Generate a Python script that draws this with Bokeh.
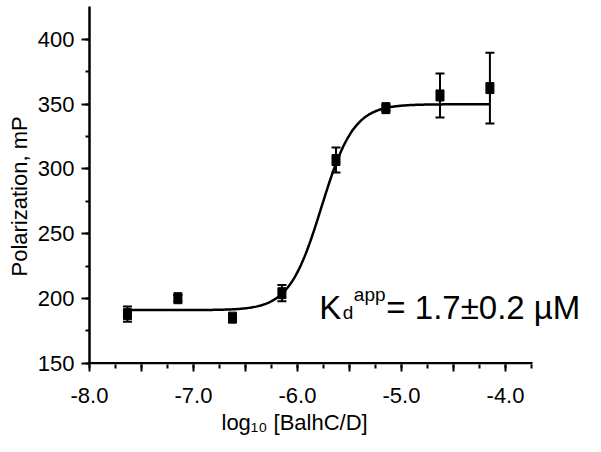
import numpy as np
from bokeh.plotting import figure
from bokeh.models import (ColumnDataSource, FixedTicker, CustomJSTickFormatter,
                          Whisker, TeeHead, Label, Range1d, Title)
from bokeh.embed import file_html
from bokeh.resources import INLINE

# ---- data ----
log_conc = [-7.635, -7.15, -6.625, -6.15, -5.63, -5.15, -4.63, -4.15]
polarization = [187.9, 200.2, 185.2, 204.1, 306.9, 347.0, 356.8, 362.5]
error = [5.8, 2.5, 2.5, 6.3, 9.7, 2.0, 17.0, 27.3]

# fitted curve parameters (Kd app = 1.7 uM)
fit_bottom = 191.0
fit_top = 350.0
fit_log_kd = -5.77
fit_hill = 2.8

x_axis_start, x_axis_end = -8.0, -3.74
x_major = [-8.0, -7.5, -7.0, -6.5, -6.0, -5.5, -5.0, -4.5, -4.0]
x_minor = [-8.0 + 0.25 * i for i in range(18)]
y_axis_start = 150
y_major = [150, 200, 250, 300, 350, 400]
y_minor = [150, 175, 200, 225, 250, 275, 300, 325, 350, 375, 400]

FONT = "Liberation Sans"

p = figure(width=585, height=436, output_backend="svg", toolbar_location=None,
           x_range=Range1d(-8.0, -3.231), y_range=Range1d(149.0, 425.5),
           min_border_left=89, min_border_right=0, min_border_top=6,
           min_border_bottom=72)
p.outline_line_color = None
p.grid.visible = False
p.background_fill_color = "white"
p.border_fill_color = "white"

for ax in (p.xaxis[0], p.yaxis[0]):
    ax.axis_line_width = 2.5
    ax.axis_line_color = "black"
    ax.major_tick_line_width = 2
    ax.minor_tick_line_width = 2
    ax.major_tick_in = 0
    ax.minor_tick_in = 0
    ax.minor_tick_out = 4
    ax.major_label_text_font = FONT
    ax.major_label_text_font_size = "22px"
    ax.major_label_text_color = "black"

p.xaxis.major_tick_out = 7
p.yaxis.major_tick_out = 8

# x axis line drawn as a glyph so that it stops at the end of the scale
p.xaxis.axis_line_color = None
p.segment(x0=[x_axis_start], y0=[y_axis_start], x1=[x_axis_end], y1=[y_axis_start],
          line_color="black", line_width=2.5)

p.xaxis.ticker = FixedTicker(ticks=x_major, minor_ticks=x_minor)
p.xaxis.formatter = CustomJSTickFormatter(
    code="return (Math.abs(tick - Math.round(tick)) < 1e-6) ? tick.toFixed(1) : '';")
p.xaxis.major_label_standoff = 16
p.yaxis.ticker = FixedTicker(ticks=y_major, minor_ticks=y_minor)
p.yaxis.major_label_standoff = 7

# fitted curve
xs = np.linspace(log_conc[0], log_conc[-1], 300)
ys = fit_bottom + (fit_top - fit_bottom) / (1 + 10 ** ((fit_log_kd - xs) * fit_hill))
p.line(xs, ys, line_color="black", line_width=2.5)

src = ColumnDataSource(dict(
    x=log_conc, y=polarization,
    lo=[v - e for v, e in zip(polarization, error)],
    hi=[v + e for v, e in zip(polarization, error)]))

p.add_layout(Whisker(source=src, base="x", lower="lo", upper="hi",
                     line_color="black", line_width=2,
                     upper_head=TeeHead(size=9, line_width=2, line_color="black"),
                     lower_head=TeeHead(size=9, line_width=2, line_color="black")))
p.rect("x", "y", width=8, height=11, width_units="screen", height_units="screen",
       source=src, fill_color="black", line_color="black")

# axis titles
p.add_layout(Title(text="Polarization, mP", align="left", offset=88, standoff=6,
                   text_font=FONT, text_font_size="22px", text_font_style="normal",
                   text_color="black"), "left")
p.add_layout(Title(text="log\u2081\u2080 [BalhC/D]", align="left", offset=132, standoff=4,
                   text_font=FONT, text_font_size="22px", text_font_style="normal",
                   text_color="black"), "below")

# Kd annotation
k_x, k_y = -5.79, 193.0
p.add_layout(Label(x=k_x, y=k_y, text="K", text_font=FONT, text_font_size="33px",
                   text_baseline="alphabetic", text_color="black"))
p.add_layout(Label(x=k_x, y=k_y, x_offset=23.5, y_offset=-5, text="d", text_font=FONT,
                   text_font_size="19px", text_baseline="alphabetic", text_color="black"))
p.add_layout(Label(x=k_x, y=k_y, x_offset=34.5, y_offset=13, text="app", text_font=FONT,
                   text_font_size="19px", text_baseline="alphabetic", text_color="black"))
p.add_layout(Label(x=k_x, y=k_y, x_offset=67, text="= 1.7\u00b10.2 \u00b5M", text_font=FONT,
                   text_font_size="33px", text_baseline="alphabetic", text_color="black"))

open("out.html", "w").write(file_html(p, INLINE))
